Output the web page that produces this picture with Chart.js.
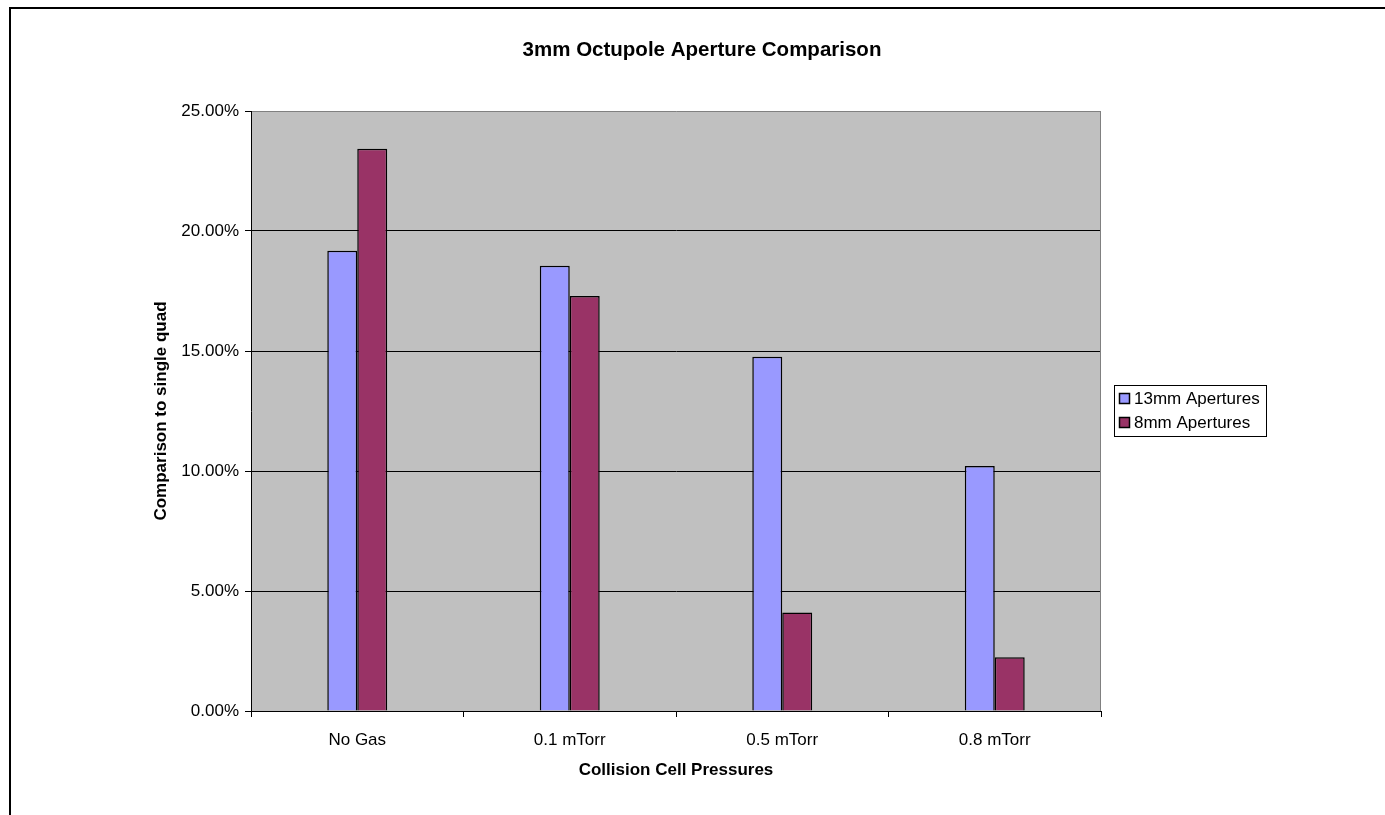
<!DOCTYPE html>
<html>
<head>
<meta charset="utf-8">
<title>3mm Octupole Aperture Comparison</title>
<script src="https://cdn.jsdelivr.net/npm/chart.js@4/dist/chart.umd.min.js"></script>
<style>
  html, body { margin: 0; padding: 0; background: #ffffff; }
  #wrap { width: 1385px; height: 815px; position: relative; }
</style>
</head>
<body>
<div id="wrap"><canvas id="chart" width="1385" height="815"></canvas></div>
<script>
// Data
const pressures = ['No Gas', '0.1 mTorr', '0.5 mTorr', '0.8 mTorr'];
const aperture13mm = [19.18, 18.55, 14.76, 10.21];
const aperture8mm = [23.43, 17.29, 4.10, 2.24];
const seriesNames = ['13mm Apertures', '8mm Apertures'];
const chartTitle = '3mm Octupole Aperture Comparison';
const xAxisTitle = 'Collision Cell Pressures';
const yAxisTitle = 'Comparison to single quad';

const FONT = "'Liberation Sans', Arial, sans-serif";

// Background, outer frame and grey plot area
const backdrop = {
  id: 'backdrop',
  beforeDraw(chart) {
    const { ctx, chartArea: a } = chart;
    ctx.save();
    ctx.fillStyle = '#ffffff';
    ctx.fillRect(0, 0, chart.width, chart.height);
    ctx.strokeStyle = '#000000';
    ctx.lineWidth = 2;
    ctx.strokeRect(10, 8, chart.width + 40, chart.height + 40);
    ctx.fillStyle = '#C0C0C0';
    ctx.fillRect(a.left, a.top, a.right - a.left, a.bottom - a.top);
    ctx.restore();
  }
};

// Right plot border, titles and the boxed legend
const annotations = {
  id: 'annotations',
  afterDraw(chart) {
    const { ctx, chartArea: a } = chart;
    ctx.save();
    ctx.strokeStyle = '#808080';
    ctx.lineWidth = 1;
    ctx.beginPath();
    ctx.moveTo(Math.round(a.right) - 0.5, a.top);
    ctx.lineTo(Math.round(a.right) - 0.5, a.bottom);
    ctx.stroke();

    ctx.fillStyle = '#000000';
    ctx.textAlign = 'center';
    ctx.textBaseline = 'middle';
    ctx.font = 'bold 20.5px ' + FONT;
    ctx.fillText(chartTitle, 702, 50);

    ctx.font = 'bold 17px ' + FONT;
    ctx.fillText(xAxisTitle, (a.left + a.right) / 2, 770);

    ctx.save();
    ctx.translate(161, (a.top + a.bottom) / 2);
    ctx.rotate(-Math.PI / 2);
    ctx.fillText(yAxisTitle, 0, 0);
    ctx.restore();

    // legend
    const lx = 1114, ly = 385, lw = 152, lh = 51;
    ctx.fillStyle = '#ffffff';
    ctx.fillRect(lx, ly, lw, lh);
    ctx.strokeStyle = '#000000';
    ctx.lineWidth = 1;
    ctx.strokeRect(lx + 0.5, ly + 0.5, lw, lh);
    ctx.font = '17px ' + FONT;
    ctx.textAlign = 'left';
    chart.data.datasets.forEach((ds, i) => {
      const rowY = 399 + i * 24;
      ctx.fillStyle = ds.backgroundColor;
      ctx.fillRect(1119.5, rowY - 5.5, 10, 10);
      ctx.strokeStyle = '#000000';
      ctx.lineWidth = 1.5;
      ctx.strokeRect(1119.5, rowY - 5.5, 10, 10);
      ctx.fillStyle = '#000000';
      ctx.fillText(ds.label, 1134, rowY);
    });
    ctx.restore();
  }
};

new Chart(document.getElementById('chart'), {
  type: 'bar',
  data: {
    labels: pressures,
    datasets: [
      {
        label: seriesNames[0],
        data: aperture13mm,
        backgroundColor: '#9999FF',
        borderColor: '#000000',
        borderWidth: 1.5
      },
      {
        label: seriesNames[1],
        data: aperture8mm,
        backgroundColor: '#993366',
        borderColor: '#000000',
        borderWidth: 1.5
      }
    ]
  },
  options: {
    responsive: false,
    animation: false,
    devicePixelRatio: 1,
    layout: { padding: { top: 111, right: 284, bottom: 0, left: 0 } },
    datasets: { bar: { categoryPercentage: 0.282, barPercentage: 1.0 } },
    plugins: {
      legend: { display: false },
      title: { display: false },
      tooltip: { enabled: false }
    },
    scales: {
      x: {
        offset: true,
        grid: {
          offset: true,
          drawOnChartArea: false,
          drawTicks: true,
          tickLength: 6,
          color: '#000000',
          tickColor: '#000000'
        },
        border: { display: true, color: '#000000', width: 1 },
        ticks: {
          color: '#000000',
          padding: 13,
          maxRotation: 0,
          font: { family: FONT, size: 17 }
        },
        afterFit(scale) { scale.height = 104; }
      },
      y: {
        min: 0,
        max: 25,
        grid: {
          color: (c) => (c.tick && c.tick.value === 25 ? '#808080' : '#000000'),
          tickColor: '#000000',
          tickLength: 6,
          lineWidth: 1
        },
        border: { display: true, color: '#000000', width: 1 },
        ticks: {
          stepSize: 5,
          color: '#000000',
          padding: 6,
          font: { family: FONT, size: 17 },
          callback: (v) => Number(v).toFixed(2) + '%'
        },
        afterFit(scale) { scale.width = 251; }
      }
    }
  },
  plugins: [backdrop, annotations]
});
</script>
</body>
</html>
